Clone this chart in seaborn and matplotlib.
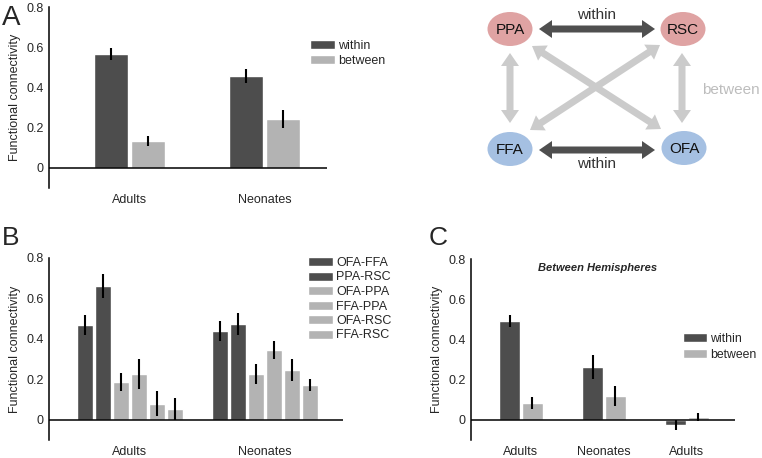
import numpy as np
import pandas as pd
import matplotlib
matplotlib.use("Agg")
import matplotlib.pyplot as plt
import seaborn as sns
from matplotlib.patches import Ellipse, Polygon

sns.set_style("white")
plt.rcParams['font.family'] = ['Liberation Sans', 'DejaVu Sans']

DARK = '#4d4d4d'
LIGHT = '#b3b3b3'

# Panel A: within / between network connectivity
a_groups = ['Adults', 'Neonates']
a_kinds = ['within', 'between']
a_within = [0.565, 0.455]
a_within_err = [0.03, 0.035]
a_between = [0.135, 0.245]
a_between_err = [0.025, 0.045]

# Panel B: single region pairs
b_groups = ['Adults', 'Neonates']
b_pairs = ['OFA-FFA', 'PPA-RSC', 'OFA-PPA', 'FFA-PPA', 'OFA-RSC', 'FFA-RSC']
b_adults = [0.47, 0.66, 0.185, 0.225, 0.08, 0.052]
b_adults_err = [0.05, 0.06, 0.045, 0.075, 0.06, 0.055]
b_neonates = [0.44, 0.475, 0.228, 0.345, 0.248, 0.172]
b_neonates_err = [0.05, 0.055, 0.05, 0.045, 0.055, 0.028]

# Panel C: between hemispheres
c_groups = ['Adults', 'Neonates', 'Adults']
c_within = [0.49, 0.265, -0.025]
c_within_err = [0.03, 0.06, 0.025]
c_between = [0.085, 0.12, 0.013]
c_between_err = [0.03, 0.05, 0.02]

W, H = 762, 458
fig = plt.figure(figsize=(W / 100, H / 100), dpi=100)


def px_axes(left, top, right, bottom):
    return fig.add_axes([left / W, 1 - bottom / H, (right - left) / W, (bottom - top) / H])


def bar_panel(ax, df, hue_order, palette, width, gap, xlim, errs, labels):
    sns.barplot(data=df, x='pos', y='value', hue='kind', hue_order=hue_order,
                palette=palette, width=width, gap=gap, saturation=1,
                errorbar=None, ax=ax)
    # error bars from the bars seaborn placed
    for cont, err in zip(ax.containers, errs):
        for bar, val, e in zip(cont, cont.datavalues, err):
            xc = bar.get_x() + bar.get_width() / 2
            ax.errorbar(xc, val, yerr=e, color='black', lw=1.5, capsize=0)
    ax.axhline(0, color='black', lw=1.1, zorder=5)
    ax.set_ylim(-0.1, 0.8)
    ax.set_xlim(*xlim)
    ax.set_yticks([0, 0.2, 0.4, 0.6, 0.8])
    ax.set_yticklabels(['0', '0.2', '0.4', '0.6', '0.8'])
    ax.set_xticks(range(len(labels)))
    ax.set_xticklabels(labels)
    ax.tick_params(length=0, labelsize=9, pad=4)
    ax.set_xlabel('')
    ax.set_ylabel('Functional connectivity', fontsize=9, labelpad=4)
    for s in ['top', 'right', 'bottom']:
        ax.spines[s].set_visible(False)
    ax.spines['left'].set_color('black')
    ax.spines['left'].set_linewidth(1.1)
    ax.patch.set_alpha(0)


def place_legend(ax, x, y, spacing, size=9):
    sns.move_legend(ax, 'upper left', bbox_to_anchor=(x / W, 1 - y / H),
                    bbox_transform=fig.transFigure, frameon=False, title=None,
                    fontsize=size, handlelength=2.0, handleheight=0.72,
                    handletextpad=0.25, labelspacing=spacing, borderpad=0,
                    borderaxespad=0)


# ---- A ----
df_a = pd.DataFrame({
    'pos': list(range(len(a_groups))) * 2,
    'kind': ['within'] * len(a_groups) + ['between'] * len(a_groups),
    'value': a_within + a_between,
})
ax_a = px_axes(49, 7, 327, 188)
bar_panel(ax_a, df_a, a_kinds, {'within': DARK, 'between': LIGHT}, 0.54, 0.07,
          (-0.596, 1.463), [a_within_err, a_between_err], a_groups)
place_legend(ax_a, 310, 40, 0.2)

# ---- B ----
rows = []
for i, p in enumerate(b_pairs):
    rows.append({'pos': 0, 'kind': p, 'value': b_adults[i]})
    rows.append({'pos': 1, 'kind': p, 'value': b_neonates[i]})
df_b = pd.DataFrame(rows)
b_palette = {p: (DARK if i < 2 else LIGHT) for i, p in enumerate(b_pairs)}
b_errs = [[b_adults_err[i], b_neonates_err[i]] for i in range(len(b_pairs))]
ax_b = px_axes(49, 258, 343, 440)
bar_panel(ax_b, df_b, b_pairs, b_palette, 0.8, 0.11,
          (-0.6, 1.578), b_errs, b_groups)
place_legend(ax_b, 308, 257, 0.2)

# ---- C ----
df_c = pd.DataFrame({
    'pos': list(range(len(c_groups))) * 2,
    'kind': ['within'] * len(c_groups) + ['between'] * len(c_groups),
    'value': c_within + c_between,
})
ax_c = px_axes(471, 259, 735, 440)
bar_panel(ax_c, df_c, a_kinds, {'within': DARK, 'between': LIGHT}, 0.54, 0.06,
          (-0.602, 2.578), [c_within_err, c_between_err], c_groups)
place_legend(ax_c, 683, 333, 0.3, size=8.8)
fig.text(598 / W, 1 - 268 / H, 'Between Hemispheres', ha='center', va='center',
         fontsize=8, fontweight='bold', fontstyle='italic')

# panel letters
fig.text(2 / W, 1 - 25 / H, 'A', fontsize=20, va='baseline')
fig.text(2 / W, 1 - 245 / H, 'B', fontsize=19, va='baseline')
fig.text(429 / W, 1 - 245 / H, 'C', fontsize=19, va='baseline')

# ---- network diagram (pixel coordinates) ----
dax = fig.add_axes([0, 0, 1, 1])
dax.set_xlim(0, W)
dax.set_ylim(H, 0)
dax.axis('off')
dax.patch.set_alpha(0)


def double_arrow(x0, y0, x1, y1, color, w=7, hw=18, hl=13):
    p0, p1 = np.array([x0, y0], float), np.array([x1, y1], float)
    u = (p1 - p0) / np.linalg.norm(p1 - p0)
    n = np.array([-u[1], u[0]])
    b0, b1 = p0 + hl * u, p1 - hl * u
    pts = [p0, b0 + hw / 2 * n, b0 + w / 2 * n, b1 + w / 2 * n, b1 + hw / 2 * n, p1,
           b1 - hw / 2 * n, b1 - w / 2 * n, b0 - w / 2 * n, b0 - hw / 2 * n]
    dax.add_patch(Polygon(pts, closed=True, color=color, lw=0))


ARROW_LIGHT = '#cbcbcb'
double_arrow(532, 46, 661, 129, ARROW_LIGHT)
double_arrow(660, 45, 530, 130, ARROW_LIGHT)
double_arrow(510, 53, 510, 123, ARROW_LIGHT)
double_arrow(682, 53, 682, 123, ARROW_LIGHT)
double_arrow(539, 29, 655, 29, '#4f4f4f')
double_arrow(539, 150, 655, 150, '#4f4f4f')

nodes = {'PPA': (510, 29, '#dfa3a3'), 'RSC': (683, 29, '#dfa3a3'),
         'FFA': (510, 149, '#a5c0e2'), 'OFA': (684, 148, '#a5c0e2')}
for name, (x, y, col) in nodes.items():
    dax.add_patch(Ellipse((x, y), 45, 34, color=col, lw=0))
    dax.text(x, y + 1, name, ha='center', va='center', fontsize=11, color='#111111')

dax.text(597, 15, 'within', ha='center', va='center', fontsize=11, color='#333333')
dax.text(597, 164, 'within', ha='center', va='center', fontsize=11, color='#333333')
dax.text(702, 90, 'between', ha='left', va='center', fontsize=11, color='#bdbdbd')

fig.savefig('out.png', dpi=100)
